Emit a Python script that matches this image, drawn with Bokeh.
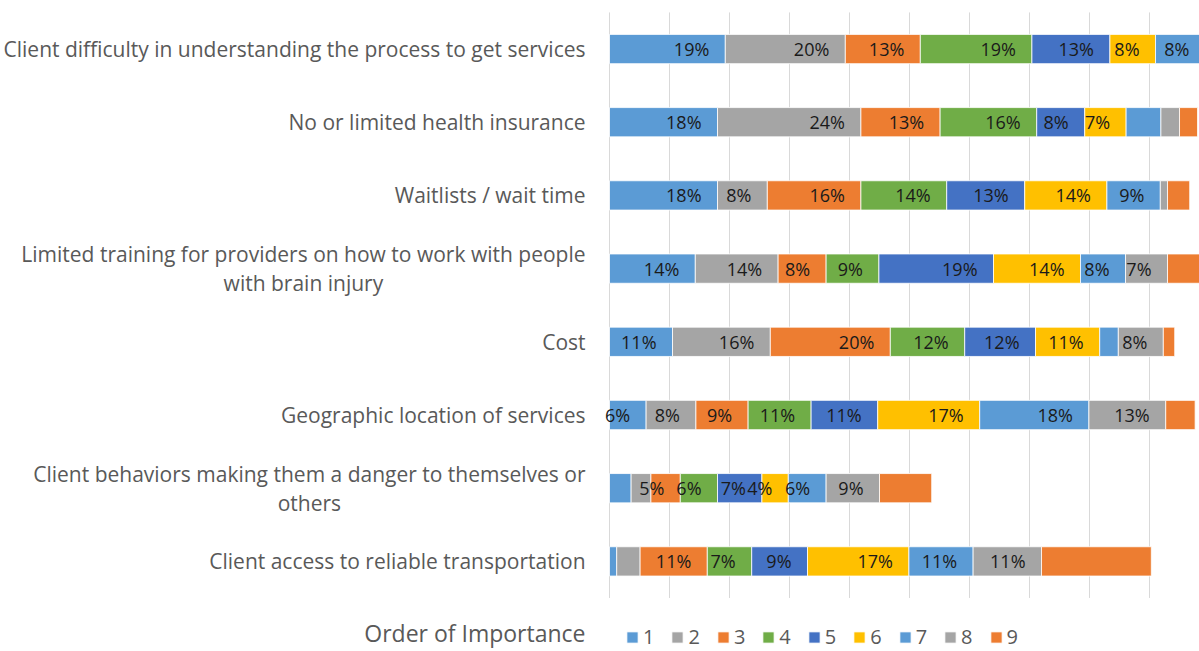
from bokeh.plotting import figure
from bokeh.models import Range1d, Legend, LegendItem, Label, ColumnDataSource
from bokeh.core.properties import value
from bokeh.embed import file_html
from bokeh.resources import INLINE

categories = [
    "Client difficulty in understanding the process to get services",
    "No or limited health insurance",
    "Waitlists / wait time",
    "Limited training for providers on how to work with people\nwith brain injury",
    "Cost",
    "Geographic location of services",
    "Client behaviors making them a danger to themselves or\nothers",
    "Client access to reliable transportation",
]
series_names = ["1", "2", "3", "4", "5", "6", "7", "8", "9"]

# values per rank (rows top to bottom)
rank1 = [19.3, 18.0, 18.0, 14.3, 10.5, 6.1, 3.6, 1.2]
rank2 = [20.0, 23.9, 8.3, 13.8, 16.3, 8.3, 3.3, 3.9]
rank3 = [12.5, 13.2, 15.6, 8.0, 20.0, 8.7, 4.9, 11.2]
rank4 = [18.6, 16.1, 14.3, 8.8, 12.4, 10.5, 6.2, 7.4]
rank5 = [13.0, 8.0, 13.0, 19.1, 11.8, 11.1, 7.4, 9.3]
rank6 = [7.6, 6.9, 13.7, 14.5, 10.7, 17.0, 4.4, 16.9]
rank7 = [8.3, 5.8, 8.9, 7.5, 3.1, 18.2, 6.3, 10.7]
rank8 = [5.0, 3.1, 1.2, 7.0, 7.5, 12.8, 8.9, 11.4]
rank9 = [3.0, 3.0, 3.7, 6.0, 1.9, 4.9, 8.7, 18.3]

# data labels shown (None = no label)
label1 = [19, 18, 18, 14, 11, 6, None, None]
label2 = [20, 24, 8, 14, 16, 8, None, None]
label3 = [13, 13, 16, 8, 20, 9, 5, 11]
label4 = [19, 16, 14, 9, 12, 11, 6, 7]
label5 = [13, 8, 13, 19, 12, 11, 7, 9]
label6 = [8, 7, 14, 14, 11, 17, 4, 17]
label7 = [8, None, 9, 8, None, 18, 6, 11]
label8 = [None, None, None, 7, 8, 13, 9, 11]
label9 = [None, None, None, None, None, None, None, None]

grid_ticks = [0, 10, 20, 30, 40, 50, 60, 70, 80, 90]
legend_title = "Order of Importance"

colors = ["#5B9BD5", "#A5A5A5", "#ED7D31", "#70AD47", "#4472C4",
          "#FFC000", "#5B9BD5", "#A5A5A5", "#ED7D31"]

FONT = "Open Sans"
TEXT_GRAY = "#595959"

series = [rank1, rank2, rank3, rank4, rank5, rank6, rank7, rank8, rank9]
labels = [label1, label2, label3, label4, label5, label6, label7, label8, label9]

n = len(categories)
ys = [n - i for i in range(n)]

data = {"y": ys, "cat": categories}
for name, vals in zip(series_names, series):
    data[name] = vals
source = ColumnDataSource(data)

p = figure(width=1199, height=651,
           x_range=Range1d(-101.5, 98.33), y_range=Range1d(-0.231, 8.663),
           output_backend="svg", toolbar_location=None,
           x_axis_location=None, y_axis_location=None, min_border=0)
p.grid.visible = False
p.outline_line_color = None
p.background_fill_color = "white"

# vertical gridlines
p.segment(x0=grid_ticks, x1=grid_ticks, y0=[0.5] * len(grid_ticks),
          y1=[n + 0.5] * len(grid_ticks), line_color="#D9D9D9", line_width=1)

renderers = p.hbar_stack(series_names, y="y", height=0.4, color=colors,
                         source=source, line_color="white", line_width=0.8)

# data labels, right-aligned near end of each segment
cum = [0.0] * n
lx, ly, lt = [], [], []
for vals, labs in zip(series, labels):
    for i in range(n):
        cum[i] += vals[i]
        if labs[i] is not None:
            lx.append(cum[i])
            ly.append(ys[i])
            lt.append(f"{labs[i]}%")
p.text(x=lx, y=ly, text=lt, x_offset=-16, text_align="right",
       text_baseline="middle", text_font=value(FONT), text_font_size="18px",
       text_color="#1a1a1a")

# category labels
p.text(x=[0] * n, y=ys, text=categories, x_offset=-24, anchor="center_right",
       text_align="center", text_baseline="middle", text_font=value(FONT),
       text_font_size="21px", text_color=TEXT_GRAY, text_line_height=1.05)

p.add_layout(Label(x=0, y=0.02, x_offset=-24, text=legend_title,
                   text_align="right", text_baseline="middle",
                   text_font=FONT, text_font_size="23px",
                   text_color=TEXT_GRAY))

items = [LegendItem(label=nm, renderers=[r]) for nm, r in zip(series_names, renderers)]
legend = Legend(items=items, orientation="horizontal", location=(625, 1),
                glyph_width=14, glyph_height=14, label_standoff=4, spacing=16,
                label_width=0, padding=0, margin=0, border_line_alpha=0,
                background_fill_alpha=0, label_text_font=FONT,
                label_text_font_size="20px", label_text_color=TEXT_GRAY)
p.add_layout(legend)

open("out.html", "w").write(file_html(p, INLINE))
